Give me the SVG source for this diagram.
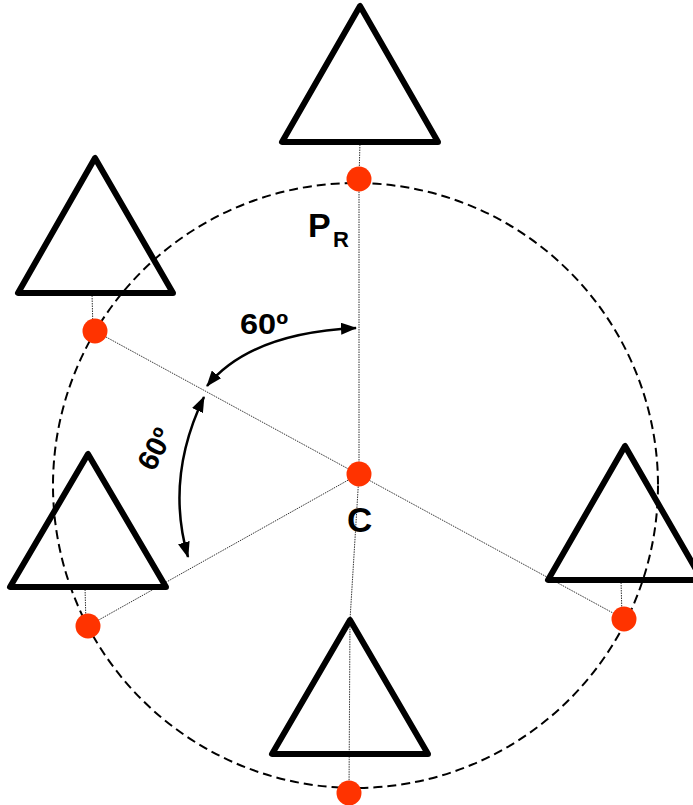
<svg xmlns="http://www.w3.org/2000/svg" width="693" height="805" viewBox="0 0 693 805">
<style>
.tri{fill:none;stroke:#000;stroke-width:6;stroke-linejoin:round;stroke-linecap:round}
.thin{fill:none;stroke:#333;stroke-width:1;stroke-dasharray:1.5 1}
.arc{fill:none;stroke:#000;stroke-width:2.5}
.dot{fill:#FF3300}
.lbl{font-family:"Liberation Sans",Arial,sans-serif;font-weight:bold;fill:#000}
</style>
<defs>
<marker id="ah" viewBox="0 0 16 12" markerWidth="16" markerHeight="12" refX="15" refY="6" orient="auto-start-reverse" markerUnits="userSpaceOnUse">
<path d="M0,0 L16,6 L0,12 z" fill="#000"/>
</marker>
</defs>
<rect width="693" height="805" fill="#fff"/>
<circle id="orbit" cx="355.5" cy="485.5" r="302.5" fill="none" stroke="#000" stroke-width="2" stroke-dasharray="9 5"/>
<g id="connectors">
<line class="thin" x1="360" y1="142" x2="359" y2="179"/>
<line class="thin" x1="359" y1="179" x2="359" y2="474"/>
<polyline class="thin" points="359,474 350,620 349,793"/>
<line class="thin" x1="95" y1="331" x2="624" y2="619"/>
<line class="thin" x1="359" y1="474" x2="88" y2="626"/>
<line class="thin" x1="92" y1="293" x2="93" y2="331"/>
<line class="thin" x1="85" y1="587" x2="86" y2="624"/>
<line class="thin" x1="621" y1="580" x2="622" y2="617"/>
<path class="arc" d="M207,386 Q250,333 356,328" marker-start="url(#ah)" marker-end="url(#ah)"/>
<path class="arc" d="M204,397 Q165,478 188,557" marker-start="url(#ah)" marker-end="url(#ah)"/>
</g>
<g id="node-top"><polygon class="tri" points="360,6 282,142 438,142"/><circle class="dot" cx="359" cy="179" r="12.5"/></g>
<g id="node-upper-left"><polygon class="tri" points="95,158 18,293 173,293"/><circle class="dot" cx="95" cy="331" r="12.5"/></g>
<g id="node-lower-left"><polygon class="tri" points="88,454 10,587 166,587"/><circle class="dot" cx="88" cy="626" r="12.5"/></g>
<g id="node-bottom"><polygon class="tri" points="350,620 272,754 428,754"/><circle class="dot" cx="349" cy="793" r="12.5"/></g>
<g id="node-right"><polygon class="tri" points="625,446 548,580 702,580"/><circle class="dot" cx="624" cy="619" r="12.5"/></g>
<g id="node-center"><circle class="dot" cx="359" cy="474" r="12.5"/><text class="lbl" x="347" y="532" font-size="35">C</text></g>
<g id="labels">
<text class="lbl" x="308" y="237" font-size="34">P</text>
<text class="lbl" x="333" y="247" font-size="22">R</text>
<text class="lbl" x="240" y="334" font-size="29" textLength="48" lengthAdjust="spacingAndGlyphs">60º</text>
<text class="lbl" x="0" y="10" font-size="29" text-anchor="middle" transform="translate(155,449) rotate(-62)">60º</text>
</g>
</svg>
